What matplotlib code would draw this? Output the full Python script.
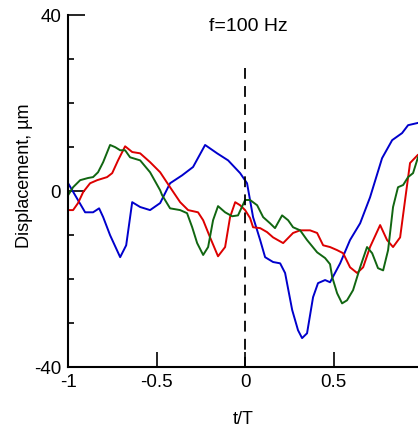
import matplotlib
matplotlib.use('Agg')
import matplotlib.pyplot as plt
import numpy as np

plt.rcParams['font.family'] = ['Liberation Sans', 'DejaVu Sans']
plt.rcParams['axes.unicode_minus'] = False

# traced curves (t/T, displacement in um)
t_blue = [-1.0, -0.904, -0.859, -0.825, -0.802, -0.763, -0.706, -0.672, -0.638, -0.593,
          -0.537, -0.48, -0.424, -0.356, -0.294, -0.226, -0.158, -0.096, -0.028, 0.011,
          0.045, 0.085, 0.113, 0.158, 0.198, 0.226, 0.266, 0.299, 0.322, 0.35,
          0.384, 0.412, 0.452, 0.48, 0.537, 0.593, 0.65, 0.706, 0.774, 0.831,
          0.887, 0.921, 0.975]
y_blue = [1.8, -4.8, -4.8, -3.9, -5.9, -10.0, -15.0, -12.3, -2.5, -3.6,
          -4.3, -2.7, 1.8, 3.6, 5.5, 10.5, 8.6, 7.0, 4.1, 1.8,
          -5.9, -11.1, -15.0, -16.1, -16.4, -18.6, -27.0, -31.6, -33.4, -32.3,
          -24.1, -20.9, -20.2, -20.7, -16.4, -11.1, -7.3, -1.4, 7.5, 11.6,
          13.2, 15.0, 15.5]

t_red = [-1.0, -0.972, -0.944, -0.915, -0.876, -0.836, -0.78, -0.751, -0.718, -0.678,
         -0.638, -0.593, -0.537, -0.48, -0.424, -0.367, -0.322, -0.266, -0.237, -0.198,
         -0.153, -0.113, -0.085, -0.056, -0.028, 0.0, 0.028, 0.045, 0.085, 0.124,
         0.158, 0.215, 0.271, 0.311, 0.367, 0.407, 0.441, 0.48, 0.52, 0.554,
         0.593, 0.633, 0.667, 0.706, 0.763, 0.802, 0.836, 0.876, 0.904, 0.932, 0.975]
y_red = [-4.3, -4.3, -2.7, -0.2, 1.8, 2.5, 3.2, 4.1, 7.0, 10.2,
         8.9, 8.6, 6.6, 4.3, 0.9, -2.5, -4.3, -4.8, -6.6, -10.5,
         -14.8, -12.7, -5.9, -2.5, -3.2, -4.3, -6.1, -8.2, -8.4, -9.3,
         -10.5, -11.8, -9.5, -8.9, -8.9, -9.5, -12.3, -12.7, -13.4, -14.1,
         -17.3, -18.6, -17.3, -12.7, -7.7, -11.1, -12.7, -10.5, -2.0, 6.4, 8.2]

t_green = [-1.0, -0.972, -0.932, -0.887, -0.859, -0.831, -0.802, -0.763, -0.734, -0.706,
           -0.678, -0.65, -0.593, -0.537, -0.48, -0.469, -0.424, -0.367, -0.328, -0.299,
           -0.271, -0.237, -0.209, -0.181, -0.153, -0.113, -0.073, -0.04, 0.0, 0.028,
           0.068, 0.102, 0.141, 0.169, 0.209, 0.243, 0.271, 0.311, 0.35, 0.407,
           0.452, 0.48, 0.492, 0.52, 0.548, 0.576, 0.61, 0.65, 0.689, 0.718,
           0.751, 0.78, 0.808, 0.836, 0.864, 0.893, 0.921, 0.949, 0.977]
y_green = [-0.9, 0.9, 2.5, 3.0, 3.2, 4.3, 6.6, 10.5, 10.0, 9.3,
           9.3, 7.7, 7.0, 4.3, 0.2, -0.9, -3.9, -4.3, -5.0, -8.2,
           -11.8, -14.5, -12.7, -6.6, -3.4, -4.8, -5.7, -5.5, -2.0, -2.0,
           -3.2, -5.9, -7.3, -8.4, -5.5, -6.6, -8.2, -8.9, -11.1, -13.9,
           -15.2, -16.6, -19.5, -23.2, -25.5, -24.8, -22.5, -17.3, -12.7, -14.1,
           -17.5, -18.0, -13.4, -3.6, 0.9, 1.4, 3.2, 4.1, 7.7]

fig = plt.figure(figsize=(4.18, 4.34), dpi=100)
ax = fig.add_axes([0.163, 0.154, 0.837, 0.811])

ax.plot(t_blue, y_blue, color='#0000cc', lw=1.4)
ax.plot(t_red, y_red, color='#dd0000', lw=1.4)
ax.plot(t_green, y_green, color='#116611', lw=1.4)

ax.plot([0, 0], [28, -40], color='black', lw=1.3, dashes=(6, 4))

ax.set_xlim(-1, 0.977)
ax.set_ylim(-40, 40)
ax.set_xticks([-1, -0.5, 0, 0.5])
ax.set_xticklabels(['-1', '-0.5', '0', '0.5'])
ax.set_yticks([-40, 0, 40])
ax.set_yticks(np.arange(-30, 40, 10), minor=True)
ax.tick_params(axis='x', direction='in', length=11, width=1.2, labelsize=13.5, pad=5)
ax.tick_params(axis='y', direction='in', length=12, width=1.2, labelsize=13.5, pad=5)
ax.tick_params(axis='y', which='minor', direction='in', length=4, width=1.2)

for s in ['top', 'right']:
    ax.spines[s].set_visible(False)
for s in ['left', 'bottom']:
    ax.spines[s].set_linewidth(1.5)

ax.set_xlabel('t/T', fontsize=13, labelpad=14)
ax.set_ylabel('Displacement, \u00b5m', fontsize=13)
ax.yaxis.set_label_coords(-0.1, 0.543)
ax.text(0.017, 37.5, 'f=100 Hz', fontsize=14, ha='center', va='center')

fig.savefig('out.png', dpi=100)
